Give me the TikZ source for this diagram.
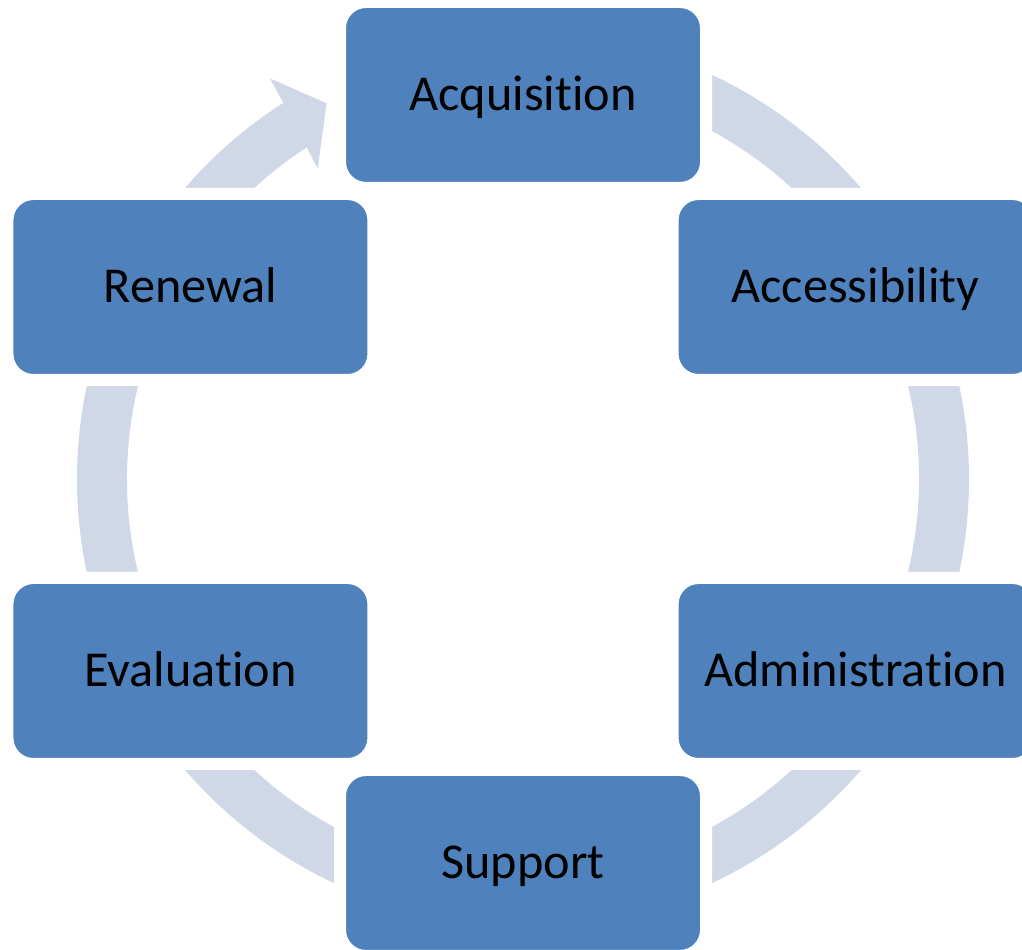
\documentclass[tikz,border=0pt]{standalone}
\usepackage{fontspec}
\setmainfont{Carlito}[Ligatures={NoCommon}]
\definecolor{boxblue}{HTML}{4F81BD}
\definecolor{ringgray}{HTML}{D0D8E8}

\begin{document}
\begin{tikzpicture}[
    stage/.style={rectangle, rounded corners=0.26cm, fill=boxblue, draw=white, line width=0.12cm,
        minimum width=3.66cm, minimum height=1.86cm, inner sep=0pt,
        text height=0.32cm, text depth=0cm, font=\fontsize{14.3}{17}\selectfont}
]
    \useasboundingbox (0,0) rectangle (10.22,9.5);
    \clip (0,0) rectangle (10.22,9.5);
    \coordinate (O) at (5.23,4.71);
    % 绘制圆环和箭头
    \coordinate (barbout) at ([shift={(122.3:4.74)}]O);
    \coordinate (tip) at ([shift={(117.6:4.24)}]O);
    \coordinate (barbin) at ([shift={(123.5:3.72)}]O);
    \fill[ringgray] ([shift={(90:4.46)}]O) arc[start angle=90, end angle=-237.5, radius=4.46]
        -- (barbout) -- (tip) -- (barbin)
        -- ([shift={(-236.9:3.96)}]O) arc[start angle=-236.9, end angle=90, radius=3.96] -- cycle;
    % 六个阶段
    \node[stage] (acq) at ([shift={(90:3.84)}]O) {Acquisition};
    \node[stage] (access) at ([shift={(30:3.84)}]O) {Accessibility};
    \node[stage] (admin) at ([shift={(-30:3.84)}]O) {Administration};
    \node[stage] (support) at ([shift={(-90:3.84)}]O) {Support};
    \node[stage] (eval) at ([shift={(-150:3.84)}]O) {Evaluation};
    \node[stage] (renew) at ([shift={(150:3.84)}]O) {Renewal};
\end{tikzpicture}
\end{document}
